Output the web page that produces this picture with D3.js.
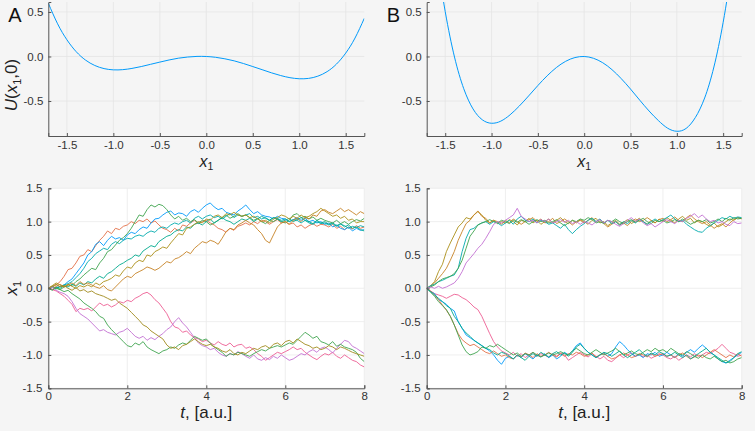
<!DOCTYPE html>
<html><head><meta charset="utf-8">
<script src="https://cdn.jsdelivr.net/npm/d3@7"></script>
<style>
html,body{margin:0;padding:0;background:#f5f5f5;}
svg{display:block;font-family:"Liberation Sans",Arial,Helvetica,sans-serif;}
</style></head><body>
<svg id="chart" width="755" height="431"></svg>
<script>
// ---------- DATA ----------
const potX = [-1.7,-1.6,-1.5,-1.4,-1.3,-1.2,-1.1,-1.0,-0.9,-0.8,-0.7,-0.6,-0.5,-0.4,-0.3,-0.2,-0.1,0,0.1,0.2,0.3,0.4,0.5,0.6,0.7,0.8,0.9,1.0,1.1,1.2,1.3,1.4,1.5,1.6,1.7];
const potUA = [0.599,0.367,0.188,0.054,-0.040,-0.101,-0.136,-0.150,-0.148,-0.134,-0.113,-0.088,-0.063,-0.039,-0.019,-0.006,0.001,0,-0.009,-0.026,-0.049,-0.079,-0.113,-0.148,-0.183,-0.214,-0.238,-0.250,-0.246,-0.221,-0.170,-0.086,0.038,0.207,0.429];
const potUB = [2.100,1.196,0.504,-0.006,-0.362,-0.589,-0.711,-0.750,-0.726,-0.655,-0.556,-0.443,-0.326,-0.217,-0.124,-0.054,-0.012,0,-0.020,-0.070,-0.148,-0.249,-0.366,-0.491,-0.612,-0.719,-0.805,-0.840,-0.808,-0.685,-0.466,-0.118,0.384,1.068,1.964];

const xTicksTop = [-1.5,-1.0,-0.5,0.0,0.5,1.0,1.5];
const yTicksTop = [-0.5,0.0,0.5];
const tTicks = [0,2,4,6,8];
const yTicksBottom = [-1.5,-1.0,-0.5,0.0,0.5,1.0,1.5];
const tStep = 0.1;

// panel A trajectories (t = 0 .. 8, step 0.1)
const A1 = [0,0.02,0.05,0.1,0.18,0.28,0.3,0.38,0.48,0.5, 0.58,0.55,0.64,0.72,0.78,0.86,0.82,0.9,0.88,0.93, 0.95,1.0,0.97,1.02,1.0,1.04,0.98,1.01,0.95,0.9, 0.88,0.84,0.9,0.86,0.95,0.93,0.98,1.02,0.97,1.0, 1.02,0.98,0.95,0.9,0.88,0.84,0.9,0.87,0.93,0.95, 0.98,0.95,1.0,0.97,1.02,1.0,0.96,1.0,1.03,0.98, 1.0,0.96,0.98,0.92,0.95,0.9,0.94,0.97,0.93,0.96, 0.95,0.92,0.96,0.9,0.93,0.88,0.92,0.89,0.94,0.9, 0.92];
const A2 = [0,-0.02,0.01,0.03,0.05,0.1,0.14,0.22,0.3,0.38, 0.5,0.55,0.66,0.7,0.64,0.72,0.78,0.74,0.76,0.72, 0.8,0.84,0.82,0.88,0.92,0.9,0.98,1.04,1.05,1.1, 1.14,1.16,1.1,1.13,1.12,1.08,1.15,1.18,1.14,1.2, 1.25,1.28,1.22,1.18,1.2,1.14,1.12,1.1,1.16,1.2, 1.25,1.18,1.12,1.15,1.1,1.08,1.07,1.04,1.08,1.05, 1.04,1.0,1.03,1.06,1.02,1.05,1.0,1.02,0.98,1.0, 0.96,0.98,0.92,0.95,0.9,0.88,0.92,0.86,0.9,0.87, 0.88];
const A3 = [0,0.02,-0.01,0.03,0.05,0.07,0.1,0.16,0.22,0.3, 0.4,0.45,0.52,0.56,0.6,0.58,0.66,0.7,0.67,0.72, 0.75,0.74,0.78,0.8,0.78,0.83,0.86,0.84,0.9,0.92, 0.9,0.95,0.98,0.96,1.0,1.02,0.98,1.05,1.08,1.04, 1.08,1.1,1.06,1.08,1.04,1.08,1.12,1.06,1.1,1.08, 1.1,1.12,1.06,1.08,1.04,1.06,1.02,1.06,1.05,1.02, 1.04,1.0,1.03,1.02,0.98,1.02,0.98,0.96,1.0,0.97, 0.98,0.95,0.97,0.93,0.96,0.94,0.9,0.93,0.91,0.94, 0.92];
const A4 = [0,0.03,0.0,-0.02,0.02,0.05,0.04,0.1,0.14,0.2, 0.25,0.3,0.28,0.38,0.45,0.55,0.58,0.65,0.72,0.76, 0.82,0.9,1.0,1.1,1.08,1.18,1.25,1.22,1.26,1.24, 1.18,1.1,1.04,1.08,1.02,1.05,1.0,1.03,0.98,1.02, 1.0,0.95,0.98,1.02,1.06,1.1,1.05,1.08,1.12,1.08, 1.1,1.06,1.02,1.05,1.0,0.97,1.02,1.0,1.04,1.0, 0.98,1.02,1.1,1.12,1.06,1.08,1.04,1.07,1.02,1.05, 1.02,1.0,0.98,1.02,0.97,1.0,0.96,1.0,1.03,1.01, 1.05];
const A5 = [0,-0.02,0.02,0.0,0.04,0.02,0.06,0.03,0.08,0.05, 0.1,0.08,0.14,0.18,0.15,0.22,0.25,0.3,0.35,0.38, 0.42,0.45,0.5,0.48,0.56,0.6,0.64,0.62,0.7,0.74, 0.78,0.8,0.85,0.88,0.86,0.92,0.9,0.96,0.98,0.95, 1.0,1.04,0.98,1.02,1.06,1.02,1.0,0.96,1.0,1.04, 1.02,1.05,1.0,1.04,1.08,1.05,1.02,1.06,1.04,1.0, 1.02,1.05,1.0,1.03,1.06,1.02,1.0,0.97,1.02,0.98, 1.0,0.96,0.98,0.94,0.97,0.92,0.95,0.9,0.92,0.88, 0.86];
const A6 = [0,0.04,0.08,0.05,0.02,0.06,0.03,0.0,0.04,0.02, 0.05,0.02,0.08,0.05,0.1,0.12,0.15,0.2,0.18,0.26, 0.32,0.3,0.38,0.42,0.4,0.5,0.48,0.55,0.58,0.62, 0.6,0.68,0.75,0.82,0.8,0.9,0.92,0.96,1.0,0.98, 1.04,1.02,1.08,1.1,1.06,1.12,1.1,1.14,1.1,1.08, 1.1,1.06,1.08,1.04,1.0,1.02,0.98,1.04,1.06,1.1, 1.08,1.04,1.08,1.05,1.1,1.06,1.08,1.12,1.15,1.2, 1.16,1.12,1.08,1.1,1.05,1.08,1.02,1.04,0.98,1.0, 1.0];
const A7 = [0,-0.02,0.03,0.06,0.02,0.05,0.08,0.04,0.1,0.06, 0.08,0.05,0.02,0.0,0.04,-0.02,-0.04,0.02,0.08,0.14, 0.18,0.16,0.22,0.25,0.28,0.32,0.3,0.27,0.3,0.35, 0.4,0.38,0.44,0.46,0.5,0.55,0.52,0.6,0.65,0.7, 0.68,0.72,0.7,0.66,0.75,0.85,0.9,0.88,0.95,0.98, 1.02,0.98,0.95,0.88,0.82,0.72,0.68,0.8,0.92,0.98, 1.0,0.96,1.02,1.05,1.0,1.06,1.04,1.1,1.08,1.16, 1.18,1.14,1.12,1.16,1.2,1.15,1.18,1.14,1.1,1.15, 1.12];
const A8 = [0,-0.02,-0.04,-0.08,-0.12,-0.18,-0.24,-0.35,-0.3,-0.32, -0.3,-0.34,-0.28,-0.22,-0.26,-0.24,-0.28,-0.25,-0.2,-0.22, -0.18,-0.2,-0.15,-0.12,-0.08,-0.06,-0.1,-0.17,-0.22,-0.3, -0.38,-0.5,-0.58,-0.6,-0.66,-0.64,-0.7,-0.74,-0.76,-0.8, -0.78,-0.82,-0.85,-0.8,-0.84,-0.86,-0.82,-0.88,-0.85,-0.84, -0.9,-0.88,-0.92,-0.98,-1.02,-1.08,-1.04,-1.0,-0.96,-0.98, -0.95,-0.92,-0.88,-0.92,-0.9,-0.96,-1.0,-1.04,-1.07,-1.02, -0.98,-1.0,-0.96,-1.02,-1.05,-1.0,-1.04,-1.08,-1.1,-1.15, -1.18];
const A9 = [0,0.02,-0.03,-0.06,-0.08,-0.12,-0.2,-0.3,-0.38,-0.42, -0.46,-0.52,-0.58,-0.64,-0.62,-0.66,-0.68,-0.7,-0.66,-0.64, -0.6,-0.66,-0.72,-0.75,-0.72,-0.78,-0.74,-0.77,-0.72,-0.68, -0.62,-0.58,-0.5,-0.44,-0.52,-0.58,-0.66,-0.74,-0.82,-0.86, -0.88,-0.92,-0.9,-0.96,-1.0,-1.02,-0.98,-1.0,-0.95,-0.98, -1.02,-1.05,-1.0,-1.06,-1.08,-1.04,-1.07,-1.02,-1.05,-1.0, -1.04,-1.08,-1.06,-1.02,-0.98,-1.0,-0.95,-0.92,-0.96,-0.9, -0.88,-0.92,-0.97,-0.9,-0.84,-0.78,-0.8,-0.87,-0.9,-0.94, -0.98];
const A10 = [0,-0.03,0.01,-0.02,-0.05,-0.03,-0.08,-0.12,-0.16,-0.22, -0.26,-0.3,-0.35,-0.42,-0.45,-0.55,-0.62,-0.68,-0.74,-0.8, -0.86,-0.88,-0.82,-0.85,-0.8,-0.88,-0.92,-0.95,-0.98,-0.94, -0.92,-0.88,-0.9,-0.85,-0.82,-0.84,-0.78,-0.72,-0.75,-0.78, -0.76,-0.82,-0.88,-0.92,-0.96,-1.02,-0.98,-1.0,-0.96,-0.98, -1.0,-1.02,-0.98,-0.95,-0.92,-0.94,-0.9,-0.88,-0.86,-0.88, -0.85,-0.82,-0.84,-0.78,-0.72,-0.66,-0.7,-0.75,-0.72,-0.8, -0.82,-0.85,-0.8,-0.87,-0.84,-0.88,-0.9,-0.92,-0.96,-1.05, -1.1];
const A11 = [0,0.03,0.06,0.02,0.04,0.0,-0.03,0.01,-0.04,-0.02, -0.06,-0.04,-0.08,-0.1,-0.12,-0.15,-0.18,-0.16,-0.22,-0.26, -0.3,-0.36,-0.42,-0.48,-0.55,-0.58,-0.64,-0.68,-0.72,-0.76, -0.85,-0.9,-0.88,-0.92,-0.86,-0.84,-0.8,-0.76,-0.8,-0.84, -0.86,-0.84,-0.88,-0.9,-0.94,-0.96,-0.92,-0.98,-1.0,-0.96, -0.98,-0.94,-0.9,-0.92,-0.88,-0.86,-0.9,-0.84,-0.82,-0.86, -0.8,-0.78,-0.82,-0.76,-0.8,-0.84,-0.86,-0.9,-0.88,-0.92, -0.9,-0.86,-0.88,-0.92,-0.88,-0.9,-0.93,-0.96,-0.98,-1.0, -1.02];

// panel B trajectories
const B1 = [0,0.04,0.1,0.25,0.36,0.55,0.68,0.8,0.92,0.98, 1.06,1.04,1.1,1.15,1.1,1.02,0.98,1.02,0.97,1.0, 0.98,1.03,1.0,0.95,1.02,1.0,1.05,0.98,1.02,0.96, 1.0,1.04,0.98,1.02,1.06,1.0,0.97,1.02,0.98,1.03, 1.0,0.96,1.02,1.05,0.98,1.0,0.94,0.98,1.02,0.96, 0.99,1.03,0.97,1.01,1.05,1.0,0.96,1.02,0.98,1.04, 1.0,1.06,1.02,0.98,1.04,1.08,1.02,1.05,0.98,1.02, 1.0,0.96,0.93,0.98,0.92,0.95,1.0,1.04,1.02,1.06, 1.05];
const B2 = [0,0.03,0.08,0.15,0.22,0.3,0.42,0.55,0.72,0.85, 0.97,1.02,1.1,1.16,1.08,1.05,0.98,1.02,1.0,0.96, 1.02,0.98,1.04,1.0,0.96,1.0,1.03,1.06,1.0,1.04, 0.98,1.0,1.05,0.97,1.0,1.04,1.0,0.95,1.0,1.02, 0.98,1.02,1.06,1.0,1.03,0.97,0.92,0.96,1.0,0.95, 0.98,0.94,1.0,1.04,1.0,1.02,1.06,1.02,0.98,1.03, 1.05,1.0,1.03,1.07,1.02,1.0,1.06,1.1,1.04,1.0, 0.97,1.0,0.95,0.9,0.94,0.97,0.92,0.98,1.03,1.06, 1.04];
const B3 = [0,0.04,0.06,0.1,0.12,0.15,0.18,0.2,0.3,0.55, 0.75,0.88,0.9,0.95,0.98,1.0,0.96,1.0,0.98,0.94, 0.98,1.02,0.96,1.04,1.08,1.02,1.0,1.04,0.98,1.02, 1.0,0.96,0.98,0.94,0.9,0.96,0.88,0.82,0.88,0.93, 0.97,1.02,1.05,1.0,1.04,0.98,1.02,0.97,1.0,0.95, 1.0,0.97,1.02,0.98,1.03,1.0,0.96,1.0,1.04,1.0, 1.03,1.06,1.1,1.04,1.0,1.02,0.96,0.92,0.88,0.85, 0.84,0.9,0.94,0.98,1.02,1.06,1.04,1.08,1.05,1.07, 1.06];
const B4 = [0,0.02,0.05,0.1,0.14,0.16,0.18,0.22,0.3,0.42, 0.6,0.78,0.86,0.95,0.98,1.0,1.03,1.0,0.98,1.02, 1.0,0.97,1.02,0.99,1.03,1.0,0.96,1.0,1.03,1.0, 1.02,0.98,1.0,1.03,0.98,0.94,0.98,1.02,1.0,1.04, 1.02,1.06,1.03,0.98,1.0,0.97,1.02,1.0,1.04,1.0, 0.97,1.0,1.03,0.99,1.02,1.05,1.0,0.97,1.02,1.0, 1.02,0.98,1.0,1.03,1.0,1.04,1.0,0.96,0.99,1.02, 1.0,1.03,0.98,1.0,1.04,1.0,1.05,1.02,1.06,1.04, 1.05];
const B5 = [0,0.02,0.0,0.03,0.0,0.02,0.05,0.08,0.15,0.25, 0.38,0.45,0.52,0.6,0.66,0.75,0.85,0.96,1.0,0.98, 1.02,1.06,1.1,1.2,1.08,1.04,1.0,1.02,0.98,1.03, 1.0,1.04,0.98,1.0,1.03,0.99,1.02,0.97,1.0,0.96, 1.0,0.98,0.95,1.0,1.03,0.98,1.02,1.0,0.96,0.93, 0.97,1.02,1.06,1.0,1.04,0.98,0.94,0.97,0.92,0.96, 1.0,1.03,1.0,0.97,1.02,1.0,1.05,1.08,1.12,1.06, 1.1,1.04,1.0,1.02,0.98,1.0,0.96,0.94,1.0,0.97, 0.98];
const B6 = [0,-0.04,-0.08,-0.1,-0.12,-0.15,-0.12,-0.09,-0.1,-0.14, -0.17,-0.22,-0.28,-0.32,-0.42,-0.55,-0.68,-0.8,-0.88,-0.94, -0.97,-1.0,-0.96,-1.02,-0.98,-1.04,-1.0,-0.96,-1.02,-0.98, -1.0,-1.04,-0.98,-1.02,-0.97,-1.0,-1.08,-1.04,-1.0,-0.96, -1.0,-1.03,-0.98,-1.02,-1.06,-1.02,-1.08,-1.1,-1.05,-1.0, -1.04,-1.0,-0.97,-1.02,-0.99,-1.03,-1.0,-1.05,-1.02,-0.98, -1.0,-1.04,-1.06,-1.02,-1.08,-1.04,-1.0,-1.03,-0.98,-1.02, -1.0,-0.96,-0.98,-0.94,-0.9,-0.84,-0.9,-0.96,-0.98,-1.02, -1.0];
const B7 = [0,-0.05,-0.08,-0.17,-0.2,-0.24,-0.3,-0.34,-0.5,-0.6, -0.7,-0.74,-0.78,-0.82,-0.86,-0.9,-0.94,-1.0,-1.08,-1.14, -1.05,-1.02,-1.06,-1.0,-1.04,-0.98,-1.02,-1.06,-1.0,-1.03, -0.98,-1.04,-1.0,-1.06,-1.02,-0.96,-1.0,-0.94,-0.86,-0.82, -0.9,-0.96,-1.0,-1.04,-1.0,-0.97,-1.02,-0.98,-0.88,-0.8, -0.85,-0.92,-0.98,-1.02,-1.0,-1.04,-0.98,-1.0,-0.96,-1.02, -1.0,-0.96,-1.0,-1.04,-0.98,-1.02,-0.96,-0.92,-0.96,-0.9, -0.85,-0.9,-0.96,-1.0,-1.06,-1.1,-1.12,-1.08,-1.04,-1.0, -0.96];
const B8 = [0,-0.04,-0.1,-0.17,-0.25,-0.33,-0.42,-0.55,-0.68,-0.77, -0.82,-0.86,-0.84,-0.88,-0.92,-0.96,-0.98,-0.94,-0.98,-1.02, -1.0,-1.04,-1.06,-1.0,-1.03,-0.97,-1.0,-1.04,-0.98,-1.02, -1.0,-0.96,-1.0,-1.03,-0.98,-1.02,-0.98,-1.0,-0.96,-0.98, -1.02,-1.0,-0.97,-1.03,-1.0,-0.98,-1.02,-1.06,-1.04,-1.0, -0.97,-1.0,-1.04,-1.02,-0.98,-1.0,-1.03,-0.98,-1.02,-1.0, -0.98,-1.02,-1.0,-1.04,-1.0,-0.97,-1.02,-1.06,-1.03,-1.0, -1.04,-1.0,-0.96,-0.92,-0.96,-1.0,-1.04,-1.0,-1.03,-0.98, -1.02];
const B9 = [0,-0.06,-0.12,-0.2,-0.26,-0.32,-0.42,-0.55,-0.7,-0.85, -0.95,-1.0,-0.98,-0.95,-0.88,-0.9,-0.86,-0.88,-0.84,-0.88, -0.92,-0.96,-1.0,-0.97,-1.02,-0.98,-1.0,-0.96,-1.0,-1.03, -1.0,-0.97,-1.0,-0.98,-0.95,-0.98,-1.0,-0.94,-0.9,-0.94, -0.98,-1.0,-0.96,-0.92,-0.96,-1.0,-0.97,-0.94,-0.9,-0.95, -1.0,-0.97,-0.94,-0.98,-1.0,-0.96,-0.92,-0.95,-0.9,-0.94, -0.92,-0.96,-0.9,-0.94,-0.98,-1.0,-0.95,-0.98,-1.02,-1.05, -1.0,-1.04,-1.06,-1.02,-1.06,-1.1,-1.08,-1.12,-1.1,-1.06, -1.04];
const B10 = [0,-0.05,-0.1,-0.15,-0.2,-0.26,-0.3,-0.42,-0.5,-0.6, -0.67,-0.72,-0.78,-0.82,-0.86,-0.9,-0.92,-0.97,-1.0,-0.96, -0.98,-1.02,-1.06,-1.0,-1.04,-1.08,-1.02,-0.98,-1.02,-0.96, -1.0,-1.03,-0.98,-0.95,-1.0,-0.97,-1.02,-0.96,-0.88,-0.84, -0.9,-0.96,-1.0,-1.04,-1.0,-0.96,-0.98,-1.02,-0.98,-0.94, -1.0,-1.04,-1.0,-0.96,-0.92,-0.98,-1.02,-0.97,-1.0,-0.95, -0.98,-1.02,-1.0,-0.96,-1.0,-1.04,-1.0,-1.06,-1.02,-0.98, -0.94,-0.9,-0.96,-1.0,-1.04,-1.08,-1.12,-1.1,-1.04,-0.98, -0.95];

const seriesA = [A1,A2,A3,A4,A5,A6,A7,A8,A9,A10,A11];
const colorsA = ["#E36F47","#009AFA","#00AAAE","#3EA44E","#00A98D","#AC8E18","#C68225","#ED5E93","#C371D2","#3EA44E","#A08A1C"];
const seriesB = [B1,B2,B3,B4,B5,B6,B7,B8,B9,B10];
const colorsB = ["#AC8E18","#C68225","#00AAAE","#3EA44E","#C371D2","#ED5E93","#009AFA","#E36F47","#3EA44E","#00A98D"];
const potColor = "#009AFA";

// ---------- LAYOUT ----------
const svg = d3.select("#chart");
svg.append("rect").attr("width",755).attr("height",431).attr("fill","#f5f5f5");
const defs = svg.append("defs");
const axisColor = "#555";
const fmt = d => (+d).toFixed(1);

const panels = {
  left:  {x0:48.3, x1:364.3},
  right: {x0:426.7, x1:741.7}
};
const topY = {y0:2, y1:136};
const botY = {y0:188.3, y1:388.3};

let clipId = 0;
function makeClip(x0,y0,x1,y1){
  const id = "clip"+(clipId++);
  defs.append("clipPath").attr("id",id).append("rect")
    .attr("x",x0).attr("y",y0).attr("width",x1-x0).attr("height",y1-y0);
  return "url(#"+id+")";
}

function styleAxis(g, fontSize){
  g.select(".domain").attr("stroke",axisColor).attr("stroke-width",1);
  g.selectAll(".tick line").attr("stroke",axisColor);
  g.selectAll(".tick text").attr("fill","#333").attr("font-size",fontSize)
    .attr("font-family","'Liberation Sans',Arial,sans-serif");
}

function topPanel(p, U, label, withYLabel){
  const x = d3.scaleLinear().domain([-1.7,1.7]).range([p.x0,p.x1]);
  const y = d3.scaleLinear().domain([-0.893,0.612]).range([topY.y1,topY.y0]);
  const g = svg.append("g");
  g.append("g").selectAll("line").data(xTicksTop).join("line")
    .attr("x1",d=>x(d)).attr("x2",d=>x(d)).attr("y1",topY.y0).attr("y2",topY.y1)
    .attr("stroke","#e4e4e4").attr("stroke-width",0.8);
  g.append("g").selectAll("line").data(yTicksTop).join("line")
    .attr("y1",d=>y(d)).attr("y2",d=>y(d)).attr("x1",p.x0).attr("x2",p.x1)
    .attr("stroke","#e4e4e4").attr("stroke-width",0.8);
  const line = d3.line().x((d,i)=>x(potX[i])).y(d=>y(d)).curve(d3.curveNatural);
  g.append("path").datum(U).attr("d",line).attr("fill","none")
    .attr("stroke",potColor).attr("stroke-width",1)
    .attr("clip-path",makeClip(p.x0,topY.y0,p.x1,topY.y1));
  const ax = g.append("g").attr("transform",`translate(0,${topY.y1})`)
    .call(d3.axisBottom(x).tickValues(xTicksTop).tickFormat(fmt).tickSize(-3).tickPadding(5));
  styleAxis(ax, 11.5);
  const ay = g.append("g").attr("transform",`translate(${p.x0},0)`)
    .call(d3.axisLeft(y).tickValues(yTicksTop).tickFormat(fmt).tickSize(-3).tickPadding(5));
  styleAxis(ay, 11.5);
  const xl = g.append("text").attr("x",(p.x0+p.x1)/2).attr("y",167)
    .attr("text-anchor","middle").attr("font-size",16).attr("fill","#222");
  xl.append("tspan").attr("font-style","italic").text("x");
  xl.append("tspan").attr("font-size",10.5).attr("dy",3).text("1");
  svg.append("text").attr("x",p.x0-40).attr("y",22).attr("font-size",20).attr("fill","#111").text(label);
  if(withYLabel){
    const yl = g.append("text").attr("transform",`translate(17,85) rotate(-90)`)
      .attr("text-anchor","middle").attr("font-size",17).attr("fill","#222");
    yl.append("tspan").attr("font-style","italic").text("U");
    yl.append("tspan").text("(");
    yl.append("tspan").attr("font-style","italic").text("x");
    yl.append("tspan").attr("font-size",11).attr("dy",4).text("1");
    yl.append("tspan").attr("dy",-4).text(",0)");
  }
}

function bottomPanel(p, series, colors, withYLabel){
  const x = d3.scaleLinear().domain([0,8]).range([p.x0,p.x1]);
  const y = d3.scaleLinear().domain([-1.5,1.5]).range([botY.y1,botY.y0]);
  const g = svg.append("g");
  g.append("rect").attr("x",p.x0).attr("y",botY.y0).attr("width",p.x1-p.x0).attr("height",botY.y1-botY.y0).attr("fill","#ffffff");
  g.append("g").selectAll("line").data(tTicks).join("line")
    .attr("x1",d=>x(d)).attr("x2",d=>x(d)).attr("y1",botY.y0).attr("y2",botY.y1)
    .attr("stroke","#ebebeb").attr("stroke-width",0.8);
  g.append("g").selectAll("line").data(yTicksBottom).join("line")
    .attr("y1",d=>y(d)).attr("y2",d=>y(d)).attr("x1",p.x0).attr("x2",p.x1)
    .attr("stroke","#ebebeb").attr("stroke-width",0.8);
  const line = d3.line().x((d,i)=>x(i*tStep)).y(d=>y(d));
  const clip = makeClip(p.x0,botY.y0,p.x1,botY.y1);
  const lg = g.append("g").attr("clip-path",clip);
  series.forEach((s,k)=>{
    lg.append("path").datum(s).attr("d",line).attr("fill","none")
      .attr("stroke",colors[k]).attr("stroke-width",0.9).attr("stroke-linejoin","round");
  });
  const ax = g.append("g").attr("transform",`translate(0,${botY.y1})`)
    .call(d3.axisBottom(x).tickValues(tTicks).tickFormat(d=>String(d)).tickSize(-3).tickPadding(4));
  styleAxis(ax, 11.5);
  const ay = g.append("g").attr("transform",`translate(${p.x0},0)`)
    .call(d3.axisLeft(y).tickValues(yTicksBottom).tickFormat(fmt).tickSize(-3).tickPadding(6));
  styleAxis(ay, 11.5);
  const xl = g.append("text").attr("x",(p.x0+p.x1)/2).attr("y",418)
    .attr("text-anchor","middle").attr("font-size",17).attr("fill","#222");
  xl.append("tspan").attr("font-style","italic").text("t");
  xl.append("tspan").text(", [a.u.]");
  if(withYLabel){
    const yl = g.append("text").attr("transform",`translate(17,${y(0)}) rotate(-90)`)
      .attr("text-anchor","middle").attr("font-size",17).attr("fill","#222");
    yl.append("tspan").attr("font-style","italic").text("x");
    yl.append("tspan").attr("font-size",11).attr("dy",4).text("1");
  }
}

topPanel(panels.left, potUA, "A", true);
topPanel(panels.right, potUB, "B", false);
bottomPanel(panels.left, seriesA, colorsA, true);
bottomPanel(panels.right, seriesB, colorsB, false);
</script>
</body></html>
